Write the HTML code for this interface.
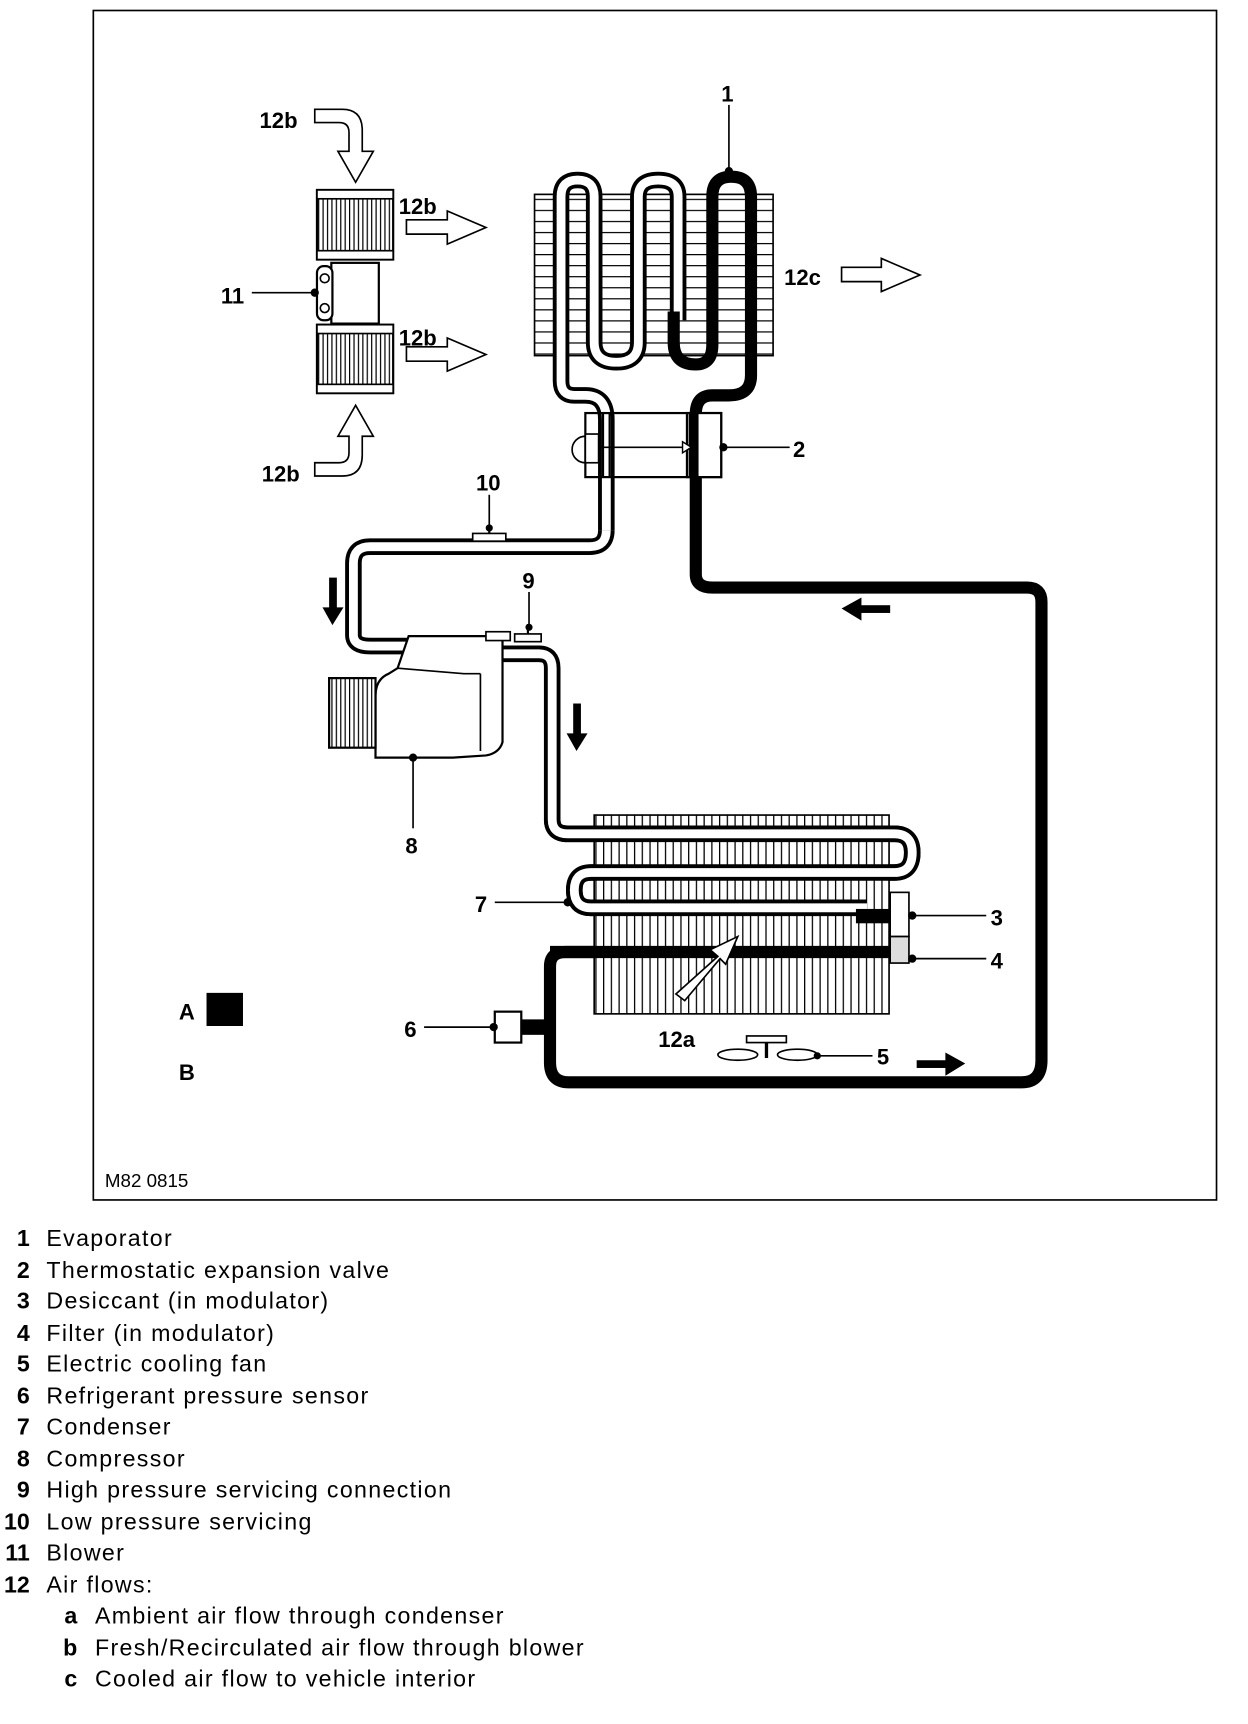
<!DOCTYPE html>
<html><head><meta charset="utf-8"><style>
html,body{margin:0;padding:0;background:#fff;}
svg{display:block}
text{font-family:"Liberation Sans",sans-serif;fill:#000}
</style></head><body>
<svg width="1248" height="1724" viewBox="0 0 1130 1561" preserveAspectRatio="none" xmlns="http://www.w3.org/2000/svg">
<defs>
<pattern id="hz" width="10" height="10" patternUnits="userSpaceOnUse"><rect width="10" height="10" fill="#fff"/><line x1="0" y1="0.5" x2="10" y2="0.5" stroke="#000" stroke-width="1.2"/></pattern>
<pattern id="vt" width="7" height="10" patternUnits="userSpaceOnUse"><rect width="7" height="10" fill="#fff"/><line x1="0.5" y1="0" x2="0.5" y2="10" stroke="#000" stroke-width="1.3"/></pattern>
<pattern id="vt2" width="4" height="10" patternUnits="userSpaceOnUse"><rect width="4" height="10" fill="#fff"/><line x1="0.5" y1="0" x2="0.5" y2="10" stroke="#000" stroke-width="1.2"/></pattern>
</defs>
<rect x="84.5" y="9.5" width="1017" height="1077" fill="none" stroke="#000" stroke-width="1.5"/>

<rect x="484" y="176" width="216" height="146" fill="url(#hz)" stroke="#000" stroke-width="1.5"/>
<g fill="none" stroke-linejoin="round" stroke-linecap="butt">
<path d="M549 480 V380 Q549 358 530 358 H520 Q508 358 508 345 V178 Q508 163 523 163 Q538 163 538 178 V310 Q538 328 558 328 Q578 328 578 310 V178 Q578 163 596 163 Q614 163 614 178 V290" stroke="#000" stroke-width="15"/>
<path d="M549 480 V380 Q549 358 530 358 H520 Q508 358 508 345 V178 Q508 163 523 163 Q538 163 538 178 V310 Q538 328 558 328 Q578 328 578 310 V178 Q578 163 596 163 Q614 163 614 178 V290" stroke="#fff" stroke-width="8"/>
<path d="M610 282 V310 Q610 330 630 330 Q645 330 645 312 V178 Q645 160 662 160 Q680 160 680 178 V340 Q680 358 660 358 H645 Q630 358 630 375 V520 Q630 532 645 532 H930 Q943 532 943 545 V960 Q943 980 925 980 H515 Q498 980 498 962 V875 Q498 862 512 862 H808" stroke="#000" stroke-width="11"/>
<path d="M549 480 Q549 495 534 495 H335 Q320 495 320 510 V575 Q320 585 335 585 H372" stroke="#000" stroke-width="15"/>
<path d="M549 480 Q549 495 534 495 H335 Q320 495 320 510 V575 Q320 585 335 585 H372" stroke="#fff" stroke-width="8"/>
<path d="M455 592 H488 Q500 592 500 605 V742 Q500 755 514 755 H810 Q826 755 826 772 Q826 790 810 790 H535 Q520 790 520 806 Q520 822 535 822 H785" stroke="#000" stroke-width="15"/>
<path d="M455 592 H488 Q500 592 500 605 V742 Q500 755 514 755 H810 Q826 755 826 772 Q826 790 810 790 H535 Q520 790 520 806 Q520 822 535 822 H785" stroke="#fff" stroke-width="8"/>
</g>

<rect x="530" y="374" width="123" height="58" fill="none" stroke="#000" stroke-width="2"/>
<rect x="622" y="374" width="31" height="58" fill="#fff" stroke="#000" stroke-width="2"/>
<line x1="628" y1="374" x2="628" y2="432" stroke="#000" stroke-width="9"/>
<line x1="546" y1="374" x2="546" y2="432" stroke="#000" stroke-width="2"/>
<line x1="552" y1="374" x2="552" y2="432" stroke="#000" stroke-width="2"/>
<rect x="530" y="393" width="12" height="26" fill="#fff" stroke="#000" stroke-width="1.5"/>
<path d="M530 395 A12 12 0 0 0 530 419" fill="none" stroke="#000" stroke-width="1.5"/>
<line x1="542" y1="405" x2="618" y2="405" stroke="#000" stroke-width="1.5"/>
<polygon points="618,400 626,405 618,410" fill="#fff" stroke="#000" stroke-width="1.3"/>

<rect x="287" y="172" width="69" height="63" fill="url(#vt2)" stroke="#000" stroke-width="2"/>
<rect x="287" y="172" width="69" height="8" fill="#fff" stroke="#000" stroke-width="1.5"/>
<rect x="287" y="227" width="69" height="8" fill="#fff" stroke="#000" stroke-width="1.5"/>
<rect x="300" y="238" width="43" height="55" fill="#fff" stroke="#000" stroke-width="2"/>
<rect x="287" y="241" width="14" height="49" rx="6" fill="#fff" stroke="#000" stroke-width="2"/>
<circle cx="294" cy="252" r="4" fill="none" stroke="#000" stroke-width="1.5"/>
<circle cx="294" cy="279" r="4" fill="none" stroke="#000" stroke-width="1.5"/>
<rect x="287" y="294" width="69" height="62" fill="url(#vt2)" stroke="#000" stroke-width="2"/>
<rect x="287" y="294" width="69" height="8" fill="#fff" stroke="#000" stroke-width="1.5"/>
<rect x="287" y="348" width="69" height="8" fill="#fff" stroke="#000" stroke-width="1.5"/>

<path d="M370 576 H455 V672 Q452 682 440 684 L410 686 H340 V630 Q340 615 352 610 L360 605 Z" fill="#fff" stroke="#000" stroke-width="2"/>
<path d="M435 610 V680" stroke="#000" stroke-width="1.5"/>
<path d="M360 605 L420 610 H435" fill="none" stroke="#000" stroke-width="1.5"/>
<rect x="298" y="614" width="42" height="63" fill="url(#vt2)" stroke="#000" stroke-width="2"/>
<rect x="440" y="572" width="22" height="8" fill="#fff" stroke="#000" stroke-width="1.5"/>
<rect x="466" y="574" width="24" height="7" fill="#fff" stroke="#000" stroke-width="1.5"/>
<line x1="478" y1="565" x2="478" y2="574" stroke="#000" stroke-width="2"/>
<rect x="428" y="483" width="30" height="7" fill="#fff" stroke="#000" stroke-width="1.5"/>
<line x1="443" y1="476" x2="443" y2="483" stroke="#000" stroke-width="2"/>

<rect x="538" y="738" width="267" height="180" fill="url(#vt)" stroke="#000" stroke-width="1.5"/>
<g fill="none" stroke-linejoin="round">
<path d="M500 742 Q500 755 514 755 H810 Q826 755 826 772 Q826 790 810 790 H535 Q520 790 520 806 Q520 822 535 822 H785" stroke="#000" stroke-width="15"/>
<path d="M500 742 Q500 755 514 755 H810 Q826 755 826 772 Q826 790 810 790 H535 Q520 790 520 806 Q520 822 535 822 H785" stroke="#fff" stroke-width="8"/>
</g>
<rect x="775" y="823" width="32" height="13" fill="#000"/>
<line x1="498" y1="862" x2="808" y2="862" stroke="#000" stroke-width="11"/>
<rect x="806" y="808" width="17" height="40" fill="#fff" stroke="#000" stroke-width="1.5"/>
<rect x="806" y="848" width="17" height="24" fill="#ddd" stroke="#000" stroke-width="1.5"/>
<polygon points="612,900 650,866 643,860 668,848 657,873 652,868 620,906" fill="#fff" stroke="#000" stroke-width="1.5"/>

<rect x="448" y="916" width="24" height="28" fill="#fff" stroke="#000" stroke-width="2"/>
<rect x="472" y="923" width="26" height="14" fill="#000"/>
<ellipse cx="668" cy="955" rx="18" ry="5" fill="#fff" stroke="#000" stroke-width="1.5"/>
<ellipse cx="722" cy="955" rx="18" ry="5" fill="#fff" stroke="#000" stroke-width="1.5"/>
<rect x="676" y="938" width="36" height="6" fill="#fff" stroke="#000" stroke-width="1.5"/>
<line x1="694" y1="944" x2="694" y2="958" stroke="#000" stroke-width="3"/>

<g fill="#000">
<rect x="298" y="523" width="7" height="30"/><polygon points="292,550 311,550 301,566"/>
<rect x="519" y="637" width="7" height="30"/><polygon points="513,664 532,664 522,680"/>
<rect x="778" y="548" width="28" height="7"/><polygon points="780,541 780,562 762,551"/>
<rect x="830" y="960" width="28" height="7"/><polygon points="856,953 856,974 874,963"/>
</g>

<g fill="#fff" stroke="#000" stroke-width="1.5">
<polygon points="368,199 405,199 405,191 440,206 405,221 405,212 368,212"/>
<polygon points="368,314 405,314 405,306 440,321 405,336 405,327 368,327"/>
<polygon points="762,242 798,242 798,234 833,249 798,264 798,255 762,255"/>
<path d="M285 99 H310 Q328 99 328 118 V137 H338 L322 165 L306 137 H316 V120 Q316 111 307 111 H285 Z"/>
<path d="M285 431 H310 Q328 431 328 412 V395 H338 L322 367 L306 395 H316 V410 Q316 419 307 419 H285 Z"/>
</g>

<g stroke="#000" stroke-width="1.5" fill="#000">
<line x1="660" y1="95" x2="660" y2="155"/><circle cx="660" cy="155" r="3"/>
<line x1="653" y1="405" x2="715" y2="405"/><circle cx="655" cy="405" r="3"/>
<line x1="228" y1="265" x2="285" y2="265"/><circle cx="285" cy="265" r="3"/>
<line x1="443" y1="448" x2="443" y2="478"/><circle cx="443" cy="478" r="2.5"/>
<line x1="479" y1="536" x2="479" y2="568"/><circle cx="479" cy="568" r="2.5"/>
<line x1="374" y1="686" x2="374" y2="750"/><circle cx="374" cy="686" r="3"/>
<line x1="448" y1="817" x2="514" y2="817"/><circle cx="514" cy="817" r="3"/>
<line x1="826" y1="829" x2="893" y2="829"/><circle cx="826" cy="829" r="3"/>
<line x1="826" y1="868" x2="893" y2="868"/><circle cx="826" cy="868" r="3"/>
<line x1="384" y1="930" x2="447" y2="930"/><circle cx="447" cy="930" r="3"/>
<line x1="740" y1="956" x2="790" y2="956"/><circle cx="740" cy="956" r="2.5"/>
</g>
<rect x="187" y="899" width="33" height="30" fill="#000"/>

<g font-weight="bold" font-size="20">
<text x="653" y="92">1</text>
<text x="718" y="414">2</text>
<text x="897" y="838">3</text>
<text x="897" y="877">4</text>
<text x="794" y="964">5</text>
<text x="366" y="939">6</text>
<text x="430" y="826">7</text>
<text x="367" y="773">8</text>
<text x="473" y="533">9</text>
<text x="431" y="444">10</text>
<text x="200" y="275">11</text>
<text x="235" y="116">12b</text>
<text x="361" y="194">12b</text>
<text x="361" y="313">12b</text>
<text x="237" y="436">12b</text>
<text x="710" y="258">12c</text>
<text x="596" y="948">12a</text>
<text x="162" y="923">A</text>
<text x="162" y="978">B</text>
</g>
<text x="95" y="1075" font-size="17">M82 0815</text>

<g font-size="21">
<g font-weight="bold" text-anchor="end">
<text x="27" y="1128">1</text><text x="27" y="1157">2</text><text x="27" y="1185">3</text><text x="27" y="1214">4</text>
<text x="27" y="1242">5</text><text x="27" y="1271">6</text><text x="27" y="1299">7</text><text x="27" y="1328">8</text>
<text x="27" y="1356">9</text><text x="27" y="1385">10</text><text x="27" y="1413">11</text><text x="27" y="1442">12</text>
<text x="70" y="1470">a</text><text x="70" y="1499">b</text><text x="70" y="1527">c</text>
</g>
<g letter-spacing="1.2">
<text x="42" y="1128">Evaporator</text>
<text x="42" y="1157">Thermostatic expansion valve</text>
<text x="42" y="1185">Desiccant (in modulator)</text>
<text x="42" y="1214">Filter (in modulator)</text>
<text x="42" y="1242">Electric cooling fan</text>
<text x="42" y="1271">Refrigerant pressure sensor</text>
<text x="42" y="1299">Condenser</text>
<text x="42" y="1328">Compressor</text>
<text x="42" y="1356">High pressure servicing connection</text>
<text x="42" y="1385">Low pressure servicing</text>
<text x="42" y="1413">Blower</text>
<text x="42" y="1442">Air flows:</text>
<text x="86" y="1470">Ambient air flow through condenser</text>
<text x="86" y="1499">Fresh/Recirculated air flow through blower</text>
<text x="86" y="1527">Cooled air flow to vehicle interior</text>
</g>
</g>
</svg>
</body></html>
